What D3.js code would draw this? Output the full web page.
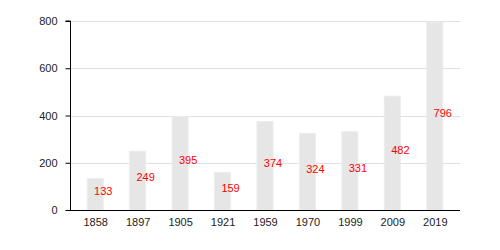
<!DOCTYPE html>
<html>
<head>
<meta charset="utf-8">
<script src="https://cdn.jsdelivr.net/npm/d3@7"></script>
<style>
  body { margin: 0; background: #fff; }
  text { font-family: "Liberation Sans", Arial, sans-serif; }
</style>
</head>
<body>
<div id="chart"></div>
<script>
// data
var years = ["1858", "1897", "1905", "1921", "1959", "1970", "1999", "2009", "2019"];
var population = [133, 249, 395, 159, 374, 324, 331, 482, 796];
var yTicks = [0, 200, 400, 600, 800];

(function () {
    var width = 500, height = 250;
    var left = 70, right = 460, plotTop = 21, bottom = 210;

    var svg = d3.select("#chart")
        .append("svg")
        .attr("width", width)
        .attr("height", height);

    var x = d3.scalePoint()
        .domain(years)
        .range([74, 456])
        .padding(0.5);

    var y = d3.scaleLinear()
        .domain([0, 800])
        .range([bottom, plotTop]);

    // gridlines
    svg.append("g")
        .selectAll("line")
        .data(yTicks.slice(1))
        .enter()
        .append("line")
        .attr("x1", left)
        .attr("x2", right)
        .attr("y1", function (d) { return Math.round(y(d)) + 0.5; })
        .attr("y2", function (d) { return Math.round(y(d)) + 0.5; })
        .attr("stroke", "#e0e0e0")
        .attr("stroke-width", 1);

    // bars
    var barW = 16;
    svg.append("g")
        .selectAll("rect")
        .data(population)
        .enter()
        .append("rect")
        .attr("x", function (d, i) { return x(years[i]) - barW / 2; })
        .attr("y", function (d) { return y(d); })
        .attr("width", barW)
        .attr("height", function (d) { return bottom - y(d); })
        .attr("fill", "#e6e6e6")
        .attr("stroke", "#ececec")
        .attr("stroke-width", 1);

    // value labels
    svg.append("g")
        .selectAll("text")
        .data(population)
        .enter()
        .append("text")
        .attr("x", function (d, i) { return x(years[i]) + 8; })
        .attr("y", function (d) { return y(d / 2) - 3; })
        .attr("dy", "0.35em")
        .attr("text-anchor", "middle")
        .attr("font-size", 11)
        .attr("fill", "#ff0000")
        .text(function (d) { return d; });

    // y axis
    var yAxis = svg.append("g")
        .attr("transform", "translate(" + (left + 0.5) + ",0)")
        .call(d3.axisLeft(y).tickValues(yTicks).tickSize(5).tickPadding(8));
    yAxis.select(".domain").attr("d", "M-5," + plotTop + "H0V" + (bottom + 0.5));
    yAxis.selectAll("text").attr("font-size", 11).attr("fill", "#222")
        .style("font-family", "Liberation Sans, Arial, sans-serif");

    // x axis
    var xAxis = svg.append("g")
        .attr("transform", "translate(0," + (bottom + 0.5) + ")")
        .call(d3.axisBottom(x).tickSize(0).tickPadding(8));
    xAxis.select(".domain").attr("d", "M" + left + ",0H" + right);
    xAxis.selectAll("text").attr("font-size", 11).attr("fill", "#222")
        .style("font-family", "Liberation Sans, Arial, sans-serif");
})();
</script>
</body>
</html>
